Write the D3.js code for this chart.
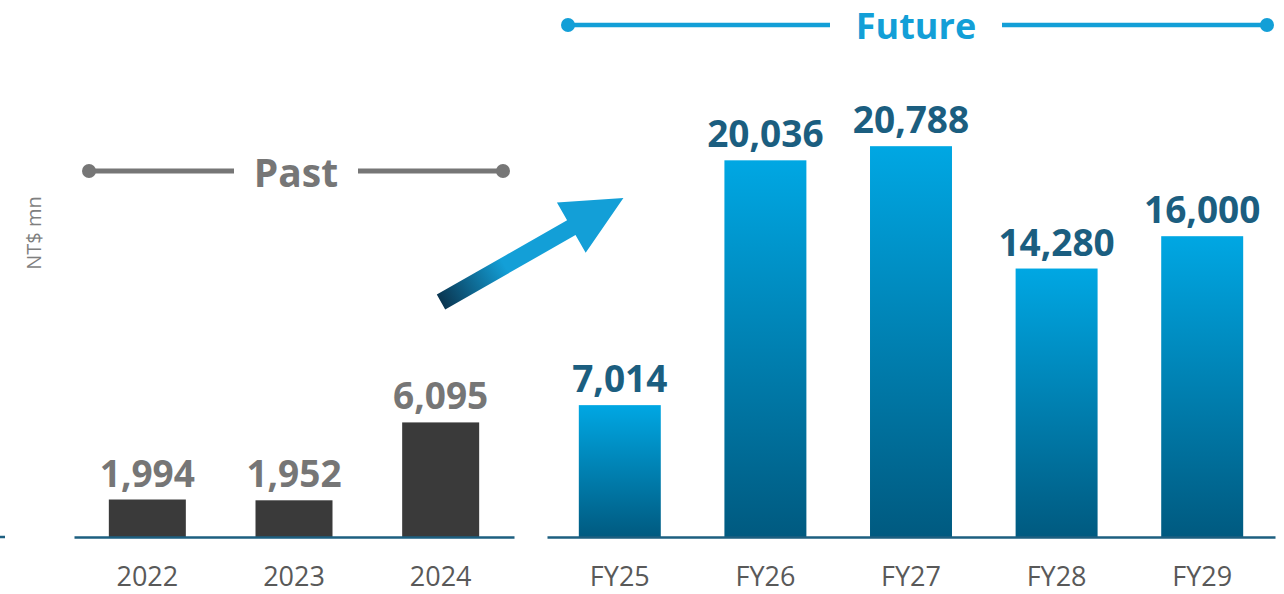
<!DOCTYPE html>
<html>
    <head>
        <meta charset="utf-8">
        <title>Past and Future</title>
        <script src="https://cdn.jsdelivr.net/npm/d3@7"></script>
        <style>
            body { margin: 0; background: #fff; }
            svg { display: block; font-family: "Open Sans", sans-serif; }
        </style>
    </head>
    <body>
        <div id="graph"></div>
        <script>
            // values in NT$ mn
            const pastYears = ["2022", "2023", "2024"];
            const pastValues = [1994, 1952, 6095];
            const futureYears = ["FY25", "FY26", "FY27", "FY28", "FY29"];
            const futureValues = [7014, 20036, 20788, 14280, 16000];
            const unitLabel = "NT$ mn";

            const width = 1284, height = 594;
            const baseY = 537;
            const format = d3.format(",d");

            const svg = d3.select("div#graph").append("svg")
                .attr("width", width)
                .attr("height", height);

            const defs = svg.append("defs");
            const barGrad = defs.append("linearGradient")
                .attr("id", "barGrad")
                .attr("x1", 0).attr("y1", 0).attr("x2", 0).attr("y2", 1);
            barGrad.append("stop").attr("offset", "0%").attr("stop-color", "#00a7e3");
            barGrad.append("stop").attr("offset", "100%").attr("stop-color", "#005a80");

            const arrowGrad = defs.append("linearGradient")
                .attr("id", "arrowGrad")
                .attr("x1", 0).attr("y1", 0).attr("x2", 1).attr("y2", 0);
            arrowGrad.append("stop").attr("offset", "0%").attr("stop-color", "#0a3550");
            arrowGrad.append("stop").attr("offset", "35%").attr("stop-color", "#139fd7");
            arrowGrad.append("stop").attr("offset", "100%").attr("stop-color", "#139fd7");

            // shared value scale
            const y = d3.scaleLinear()
                .domain([0, 25000])
                .range([baseY, baseY - 470]);

            const xPast = d3.scaleBand()
                .domain(pastYears)
                .range([74, 514])
                .paddingInner(0.475)
                .paddingOuter(0.2375);

            const xFuture = d3.scaleBand()
                .domain(futureYears)
                .range([547, 1275])
                .paddingInner(0.437)
                .paddingOuter(0.2185);

            // small piece of axis at the left edge
            svg.append("line")
                .attr("x1", 0).attr("x2", 5)
                .attr("y1", baseY).attr("y2", baseY)
                .attr("stroke", "#1d5f80").attr("stroke-width", 2.5);

            function drawGroup(x, cats, vals, barFill, labelColor) {
                const g = svg.append("g");

                g.selectAll("rect")
                    .data(vals)
                    .join("rect")
                    .attr("x", (d, i) => x(cats[i]))
                    .attr("y", d => y(d))
                    .attr("width", x.bandwidth())
                    .attr("height", d => y(0) - y(d))
                    .attr("fill", barFill);

                g.selectAll("text.value")
                    .data(vals)
                    .join("text")
                    .attr("class", "value")
                    .attr("x", (d, i) => x(cats[i]) + x.bandwidth() / 2)
                    .attr("y", d => y(d) - 13)
                    .attr("text-anchor", "middle")
                    .style("font-size", "37px")
                    .style("font-weight", "bold")
                    .attr("fill", labelColor)
                    .text(d => format(d));

                const axis = g.append("g")
                    .attr("transform", `translate(0,${baseY})`)
                    .call(d3.axisBottom(x).tickSize(0).tickPadding(30));
                axis.select(".domain")
                    .attr("stroke", "#1d5f80")
                    .attr("stroke-width", 2.5);
                axis.selectAll("text")
                    .attr("fill", "#595959")
                    .style("font-family", "'Open Sans', sans-serif")
                    .style("font-size", "27px");
            }

            drawGroup(xPast, pastYears, pastValues, "#3a3a3a", "#767676");
            drawGroup(xFuture, futureYears, futureValues, "url(#barGrad)", "#1b5e80");

            // section headers
            function header(x1, x2, yy, gapL, gapR, label, color, size, sw, r) {
                const g = svg.append("g").attr("stroke", color).attr("fill", color);
                g.append("line").attr("x1", x1).attr("x2", gapL).attr("y1", yy).attr("y2", yy).attr("stroke-width", sw);
                g.append("line").attr("x1", gapR).attr("x2", x2).attr("y1", yy).attr("y2", yy).attr("stroke-width", sw);
                g.append("circle").attr("cx", x1).attr("cy", yy).attr("r", r).attr("stroke", "none");
                g.append("circle").attr("cx", x2).attr("cy", yy).attr("r", r).attr("stroke", "none");
                g.append("text")
                    .attr("x", (gapL + gapR) / 2)
                    .attr("y", yy)
                    .attr("dy", "0.4em")
                    .attr("stroke", "none")
                    .attr("text-anchor", "middle")
                    .style("font-size", size)
                    .style("font-weight", "bold")
                    .text(label);
            }
            header(89, 503, 171, 234, 358, "Past", "#767676", "39px", 5, 7);
            header(568, 1267, 25, 830, 1002, "Future", "#139fd7", "36px", 4.5, 7);

            // unit label
            svg.append("text")
                .attr("transform", "translate(41,233) rotate(-90)")
                .attr("text-anchor", "middle")
                .attr("fill", "#7f7f7f")
                .style("font-size", "20px")
                .text(unitLabel);

            // growth arrow
            const arrow = svg.append("g")
                .attr("transform", "translate(441,302) rotate(-29.7)");
            arrow.append("path")
                .attr("d", "M0,-8.5 L150,-8.5 L150,-29 L210,0 L150,29 L150,8.5 L0,8.5 Z")
                .attr("fill", "url(#arrowGrad)");
        </script>
    </body>
</html>
